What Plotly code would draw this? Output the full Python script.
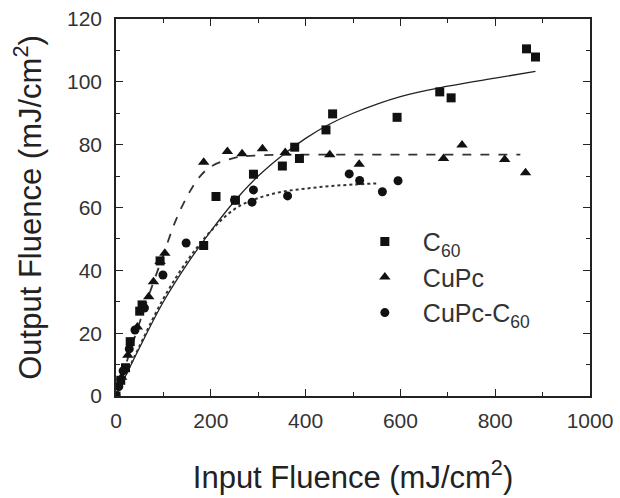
import plotly.graph_objects as go

# C60 (squares)
c60_x = [0, 10, 20, 30, 50, 55, 93, 185, 211, 252, 290, 351, 377, 387, 443, 457, 593, 683, 707, 866, 885]
c60_y = [0, 5, 9, 17.3, 27, 29, 43, 47.9, 63.5, 62.3, 70.6, 73.2, 79.2, 75.6, 84.7, 89.8, 88.7, 96.8, 94.9, 110.5, 107.9]

# CuPc (triangles)
cupc_x = [0, 12, 25, 45, 69, 79, 93, 103, 185, 235, 266, 309, 357, 451, 513, 691, 730, 820, 864]
cupc_y = [0, 6, 13, 22, 31.6, 36.4, 42.8, 45.4, 74.4, 77.8, 77.1, 78.7, 77.5, 76.8, 73.8, 75.6, 79.9, 75.3, 71.1]

# CuPc-C60 (circles)
mix_x = [0, 6, 15, 28, 40, 60, 99, 148, 250, 287, 290, 362, 492, 514, 562, 595]
mix_y = [0, 3, 8, 15, 21, 28, 38.5, 48.7, 62.4, 61.7, 65.6, 63.7, 70.7, 68.6, 65, 68.5]

# fitted curves
fit_c60_x = [0, 50, 100, 150, 200, 250, 300, 350, 400, 450, 500, 600, 700, 800, 885]
fit_c60_y = [0, 15.5, 30, 42, 52.5, 62, 70, 76.5, 82, 86.5, 90, 95.3, 98.6, 101.2, 103.3]

fit_cupc_x = [0, 25, 50, 75, 100, 125, 150, 175, 200, 250, 300, 400, 600, 853]
fit_cupc_y = [0, 12, 23.5, 34.5, 45, 55.5, 63.5, 69.5, 73, 75.8, 76.6, 76.8, 76.8, 76.8]

fit_mix_x = [0, 50, 100, 150, 200, 250, 300, 350, 400, 450, 500, 555]
fit_mix_y = [0, 16, 31, 43, 52.5, 59.5, 63, 65, 66, 66.8, 67.3, 67.7]

FONT = "Liberation Sans, Arial"

fig = go.Figure()

fig.add_trace(go.Scatter(x=fit_c60_x, y=fit_c60_y, mode="lines", line=dict(color="#222", width=1.3, shape="spline", smoothing=1.0), showlegend=False))
fig.add_trace(go.Scatter(x=fit_cupc_x, y=fit_cupc_y, mode="lines", line=dict(color="#333", width=1.8, dash="dash", shape="spline"), showlegend=False))
fig.add_trace(go.Scatter(x=fit_mix_x, y=fit_mix_y, mode="lines", line=dict(color="#333", width=2, dash="dot", shape="spline"), showlegend=False))

fig.add_trace(go.Scatter(x=c60_x, y=c60_y, mode="markers", name="C<sub>60</sub>",
                         marker=dict(symbol="square", size=9, color="#111")))
fig.add_trace(go.Scatter(x=cupc_x, y=cupc_y, mode="markers", name="CuPc",
                         marker=dict(symbol="triangle-up", size=10, color="#111")))
fig.add_trace(go.Scatter(x=mix_x, y=mix_y, mode="markers", name="CuPc-C<sub>60</sub>",
                         marker=dict(symbol="circle", size=9, color="#111")))

axis_common = dict(
    showline=True, linecolor="#222", linewidth=1.5, mirror="ticks",
    ticks="inside", ticklen=7, tickwidth=1.3, tickcolor="#222",
    showgrid=False, zeroline=False, automargin=False,
    tickfont=dict(family=FONT, size=21, color="#333"),
)

fig.update_xaxes(range=[0, 1000], dtick=200, tick0=0,
                 minor=dict(ticks="inside", ticklen=4, dtick=100, tickcolor="#222"),
                 title=dict(text="Input Fluence (mJ/cm<sup>2</sup>)", standoff=35,
                            font=dict(family=FONT, size=31, color="#222")),
                 ticklabelstandoff=5, **axis_common)
fig.update_yaxes(range=[0, 120], dtick=20, tick0=0,
                 minor=dict(ticks="inside", ticklen=4, dtick=10, tickcolor="#222"),
                 title=dict(text="Output Fluence (mJ/cm<sup>2</sup>)", standoff=16,
                            font=dict(family=FONT, size=31, color="#222")),
                 ticklabelstandoff=8, **axis_common)

fig.update_layout(
    width=620, height=498,
    margin=dict(l=116, r=30, t=19, b=102, autoexpand=False),
    plot_bgcolor="white", paper_bgcolor="white",
    legend=dict(x=0.487, y=0.47, xanchor="left", yanchor="top",
                font=dict(family=FONT, size=25, color="#333"),
                itemwidth=66,
                bgcolor="rgba(0,0,0,0)", tracegroupgap=4),
)

fig.write_html("out.html")
